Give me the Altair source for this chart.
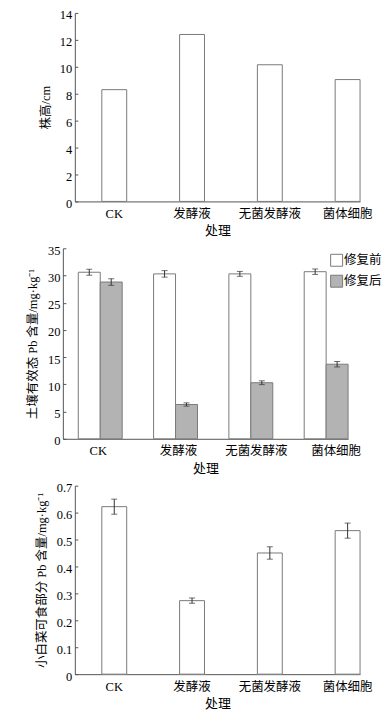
import altair as alt
import pandas as pd

# ---------------- data ----------------
cats = ["CK", "发酵液", "无菌发酵液", "菌体细胞"]
series = ["修复前", "修复后"]

plant_height = [8.3, 12.4, 10.15, 9.05]

pb_before = [30.6, 30.3, 30.3, 30.7]
pb_before_err = [0.55, 0.6, 0.45, 0.5]
pb_after = [28.8, 6.3, 10.3, 13.7]
pb_after_err = [0.6, 0.3, 0.35, 0.5]

veg_pb = [0.622, 0.273, 0.45, 0.533]
veg_pb_err = [0.028, 0.01, 0.023, 0.028]

y1_ticks = [0, 2, 4, 6, 8, 10, 12, 14]
y2_ticks = [0, 5, 10, 15, 20, 25, 30, 35]
y3_ticks = [0, 0.1, 0.2, 0.3, 0.4, 0.5, 0.6, 0.7]

# ---------------- style ----------------
FONT = "'Liberation Serif', 'Noto Sans CJK SC', serif"
STROKE = "#7a7a7a"
GRAY = "#b3b3b3"
ERR = "#333333"
AX = "#555555"

W_A = 298   # charts 1 and 3 (axis moved 12px in)
W_B = 286   # chart 2

# in the middle panel the category labels drift right of the bar groups
LABEL_SHIFT_B = [-2, 3, 5.5, 10]
cat_list_expr = "[" + ",".join("'%s'" % c for c in cats) + "]"
shift_expr = "[%s][indexof(%s, datum.value)]" % (
    ",".join(str(v) for v in LABEL_SHIFT_B), cat_list_expr)

def x_axis(label_offset=None):
    kw = dict(labelAngle=0, ticks=False, tickSize=0, labelPadding=6,
              titlePadding=5, titleFontSize=13, labelFontSize=12.5,
              labelFont=FONT, titleFont=FONT)
    if label_offset is not None:
        kw["labelOffset"] = label_offset
    return alt.Axis(**kw)

def left_axis(ticks, offset, title_pad, fmt=None):
    kw = dict(orient="left", values=ticks, ticks=False, tickSize=0,
              labelPadding=3, labelOffset=2, titlePadding=title_pad,
              offset=offset, labelFont=FONT, titleFont=FONT)
    if fmt:
        kw["format"] = fmt
    return alt.Axis(**kw)

def tick_axis(ticks, offset):
    return alt.Axis(orient="right", values=ticks, labels=False, domain=False,
                    title=None, ticks=True, tickSize=3, offset=offset)

# ---------------- chart 1 ----------------
df1 = pd.DataFrame({"cat": cats, "v": plant_height})
xA = alt.X("cat:N", sort=cats, title="处理",
           scale=alt.Scale(range=[12, W_A], paddingInner=0.68,
                           paddingOuter=0.1735, align=1),
           axis=x_axis())
y1s = alt.Scale(domain=[0, 14], nice=False)
b1 = alt.Chart(df1).mark_bar(fill="white", stroke=STROKE, strokeWidth=1).encode(
    x=xA,
    y=alt.Y("v:Q", scale=y1s, title="株高/cm",
            axis=left_axis(y1_ticks, -12, 7)),
)
t1 = alt.Chart(df1).mark_bar(opacity=0).encode(
    x=xA,
    y=alt.Y("v:Q", scale=y1s, axis=tick_axis(y1_ticks, -(W_A - 12))),
)
c1 = alt.layer(b1, t1).resolve_axis(y="independent").properties(width=W_A, height=189)

# ---------------- chart 2 ----------------
rows = []
for i, c in enumerate(cats):
    rows.append({"cat": c, "s": series[0], "v": pb_before[i], "e": pb_before_err[i]})
    rows.append({"cat": c, "s": series[1], "v": pb_after[i], "e": pb_after_err[i]})
df2 = pd.DataFrame(rows)
df2["lo"] = df2["v"] - df2["e"]
df2["hi"] = df2["v"] + df2["e"]

xB = alt.X("cat:N", sort=cats, title="处理",
           scale=alt.Scale(paddingInner=0.417, paddingOuter=0.1025, align=1),
           axis=x_axis(alt.ExprRef(expr=shift_expr)))
xo = alt.XOffset("s:N", sort=series, scale=alt.Scale(paddingInner=0, paddingOuter=0))
y2s = alt.Scale(domain=[0, 35], nice=False)

b2 = alt.Chart(df2).mark_bar(stroke=STROKE, strokeWidth=1).encode(
    x=xB, xOffset=xo,
    y=alt.Y("v:Q", scale=y2s, title="土壤有效态 Pb 含量/mg·kg⁻¹",
            axis=left_axis(y2_ticks, 0, 8)),
    fill=alt.Fill("s:N", sort=series,
                  scale=alt.Scale(domain=series, range=["white", GRAY]),
                  legend=alt.Legend(orient="none", legendX=268, legendY=5.5,
                                    title=None, symbolType="square",
                                    symbolSize=144, symbolStrokeColor=STROKE,
                                    symbolStrokeWidth=1, labelFont=FONT,
                                    labelFontSize=12.5, rowPadding=4,
                                    labelOffset=1, padding=0)),
)
r2 = alt.Chart(df2).mark_rule(color=ERR, strokeWidth=1).encode(
    x=xB, xOffset=xo,
    y=alt.Y("lo:Q", scale=y2s, axis=tick_axis(y2_ticks, -W_B)),
    y2="hi:Q",
)
lo2 = alt.Chart(df2).mark_tick(color=ERR, size=6, thickness=1).encode(
    x=xB, xOffset=xo, y=alt.Y("lo:Q", scale=y2s, axis=None))
hi2 = alt.Chart(df2).mark_tick(color=ERR, size=6, thickness=1).encode(
    x=xB, xOffset=xo, y=alt.Y("hi:Q", scale=y2s, axis=None))
c2 = alt.layer(b2, r2, lo2, hi2).resolve_axis(y="independent").properties(
    width=W_B, height=191)

# ---------------- chart 3 ----------------
df3 = pd.DataFrame({"cat": cats, "v": veg_pb, "e": veg_pb_err})
df3["lo"] = df3["v"] - df3["e"]
df3["hi"] = df3["v"] + df3["e"]
y3s = alt.Scale(domain=[0, 0.7], nice=False)

b3 = alt.Chart(df3).mark_bar(fill="white", stroke=STROKE, strokeWidth=1).encode(
    x=xA,
    y=alt.Y("v:Q", scale=y3s, title="小白菜可食部分 Pb 含量/mg·kg⁻¹",
            axis=left_axis(y3_ticks, -12, 8, "~g")),
)
r3 = alt.Chart(df3).mark_rule(color=ERR, strokeWidth=1).encode(
    x=xA,
    y=alt.Y("lo:Q", scale=y3s, axis=tick_axis(y3_ticks, -(W_A - 12))),
    y2="hi:Q",
)
lo3 = alt.Chart(df3).mark_tick(color=ERR, size=6, thickness=1).encode(
    x=xA, y=alt.Y("lo:Q", scale=y3s, axis=None))
hi3 = alt.Chart(df3).mark_tick(color=ERR, size=6, thickness=1).encode(
    x=xA, y=alt.Y("hi:Q", scale=y3s, axis=None))
c3 = alt.layer(b3, r3, lo3, hi3).resolve_axis(y="independent").properties(
    width=W_A, height=189)

chart = alt.vconcat(c1, c2, c3, spacing=6).resolve_scale(
    fill="independent"
).resolve_legend(fill="independent").properties(
    padding={"left": 18, "top": 0, "right": 0, "bottom": -1}
).configure_view(stroke=None).configure_axis(
    labelFont=FONT, titleFont=FONT, labelFontSize=12.5, titleFontSize=12.5,
    titleFontWeight="normal", labelColor="black", titleColor="black",
    domainColor=AX, tickColor=AX, grid=False,
)

chart.save("out.html", embed_options={"renderer": "svg", "actions": False})
